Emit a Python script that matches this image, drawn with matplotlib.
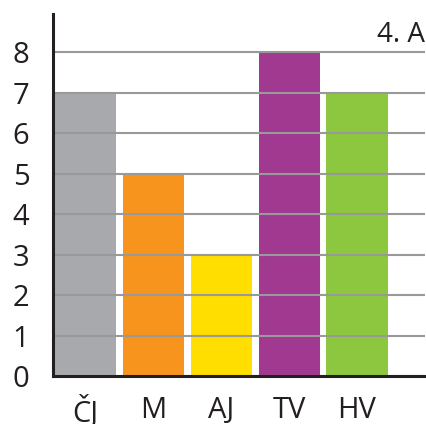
import matplotlib.pyplot as plt

plt.rcParams['font.family'] = ['Open Sans', 'DejaVu Sans']

predmety = ['ČJ', 'M', 'AJ', 'TV', 'HV']
znamky = [7, 5, 3, 8, 7]
barvy = ['#a7a9ac', '#f7941d', '#ffde00', '#a0398f', '#8dc63f']
trida = '4. A'

fig = plt.figure(figsize=(4.27, 4.24), dpi=100)
ax = fig.add_axes([0.124, 0.113, 0.871, 0.854])

x = range(len(predmety))
ax.bar(x, znamky, width=0.9, color=barvy, zorder=1)

ax.set_ylim(0, 8.95)
ax.set_xlim(-0.48, 5.0)
ax.set_yticks(range(0, 9))
ax.set_xticks(list(x))
ax.set_xticklabels(predmety)

# mřížka přes sloupce
ax.set_axisbelow(False)
ax.yaxis.grid(True, color='#999999', linewidth=1.5)
ax.xaxis.grid(False)

for side in ['top', 'right']:
    ax.spines[side].set_visible(False)
for side in ['left', 'bottom']:
    ax.spines[side].set_color('#231f20')
    ax.spines[side].set_linewidth(2.2)
    ax.spines[side].set_zorder(4)

ax.tick_params(axis='both', length=0, labelsize=21, colors='#231f20')
ax.tick_params(axis='y', pad=17)
ax.tick_params(axis='x', pad=14)

fig.text(0.995, 0.9, trida, ha='right', va='baseline', fontsize=20, color='#231f20')

fig.savefig('out.png', dpi=100)
